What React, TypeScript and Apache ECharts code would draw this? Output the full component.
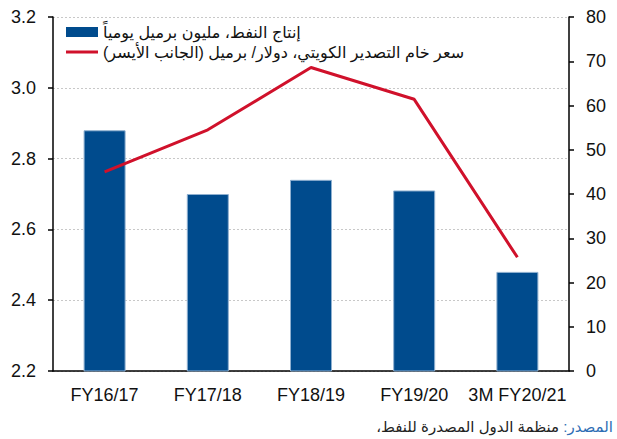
import React, { useEffect, useRef } from "react";
import * as echarts from "echarts";

const categories = ["FY16/17", "FY17/18", "FY18/19", "FY19/20", "3M FY20/21"];
const oilProduction = [2.88, 2.7, 2.74, 2.71, 2.48];
const kuwaitPrice = [45.0, 54.5, 68.6, 61.4, 25.7];
const barName = "إنتاج النفط، مليون برميل يومياً";
const lineName = "سعر خام التصدير الكويتي، دولار/ برميل (الجانب الأيسر)";
const sourceLabel = "المصدر:";
const sourceText = "منظمة الدول المصدرة للنفط،";

const FONT = "'Liberation Sans', Arial, 'DejaVu Sans', sans-serif";
const RLM = "\u200F";

export default function App() {
  const ref = useRef<HTMLDivElement>(null);
  useEffect(() => {
    if (!ref.current) return;
    const chart = echarts.init(ref.current, undefined, { renderer: "svg" });
    chart.setOption({
      animation: false,
      textStyle: { fontFamily: FONT },
      grid: { left: 53, right: 48, top: 17, bottom: 68, containLabel: false },
      legend: {
        orient: "vertical",
        left: 61,
        top: 19,
        itemWidth: 32,
        itemHeight: 10,
        itemGap: 4,
        textStyle: { fontSize: 16, color: "#111", fontFamily: FONT },
        data: [
          { name: barName, icon: "rect", itemStyle: { borderWidth: 0 } },
          {
            name: lineName,
            icon: "path://M0,0H0.01V0.01H0ZM0,3.6H32V6.4H0ZM31.99,9.99H32V10H31.99Z",
          },
        ],
      },
      xAxis: {
        type: "category",
        data: categories,
        axisLine: { lineStyle: { color: "#000", width: 1.5 } },
        axisTick: { show: false },
        axisLabel: { fontSize: 18, color: "#111", margin: 15, interval: 0, fontFamily: FONT },
      },
      yAxis: [
        {
          type: "value",
          min: 2.2,
          max: 3.2,
          interval: 0.2,
          axisLine: { show: true, lineStyle: { color: "#000", width: 1.5 } },
          axisTick: { show: true, length: 5, lineStyle: { color: "#000", width: 1.5 } },
          axisLabel: {
            fontSize: 18,
            color: "#111",
            margin: 17,
            fontFamily: FONT,
            formatter: (v: number) => v.toFixed(1),
          },
          splitLine: { show: true, lineStyle: { color: "#c8c8c8", type: [2, 2], width: 1 } },
        },
        {
          type: "value",
          min: 0,
          max: 80,
          interval: 10,
          position: "right",
          axisLine: { show: true, lineStyle: { color: "#000", width: 1.5 } },
          axisTick: { show: true, length: 5, lineStyle: { color: "#000", width: 1.5 } },
          axisLabel: { fontSize: 18, color: "#111", margin: 17, fontFamily: FONT },
          splitLine: { show: false },
        },
      ],
      series: [
        {
          name: barName,
          type: "bar",
          data: oilProduction,
          yAxisIndex: 0,
          barWidth: 42,
          itemStyle: { color: "#004b8d", borderColor: "#8fb0d0", borderWidth: 1 },
        },
        {
          name: lineName,
          type: "line",
          data: kuwaitPrice,
          yAxisIndex: 1,
          symbol: "none",
          lineStyle: { color: "#d0112b", width: 3 },
          itemStyle: { color: "#d0112b" },
        },
      ],
      graphic: [
        {
          type: "text",
          right: 4,
          top: 419,
          style: {
            rich: {
              a: { fill: "#2e6db4", fontSize: 15, fontFamily: FONT },
              b: { fill: "#222", fontSize: 15, fontFamily: FONT },
            },
            text: `{b|${sourceText}${RLM}}{a| ${sourceLabel}${RLM}}`,
          },
        },
      ],
    });
    return () => chart.dispose();
  }, []);
  return <div ref={ref} style={{ width: 617, height: 439, position: "absolute", left: 0, top: 0 }} />;
}
